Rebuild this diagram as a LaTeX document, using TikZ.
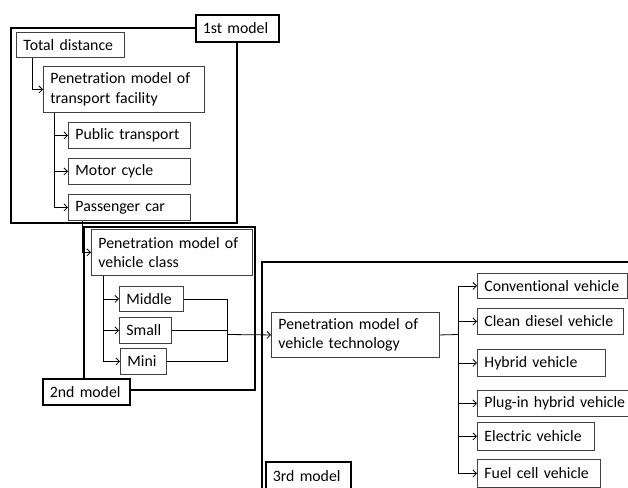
\documentclass[tikz,border=0pt]{standalone}
\usepackage{fontspec}
\setmainfont{Carlito}[Ligatures={NoCommon}]
\usetikzlibrary{arrows.meta,calc}
\hfuzz=40pt
\hbadness=10000
\newcommand{\bx}[6][]{%
  \pgfmathsetmacro{\bw}{#5-#3}\pgfmathsetmacro{\bh}{#6-#4}%
  \node[box,#1,anchor=north west,minimum width=\bw pt,minimum height=\bh pt,text width=\bw pt-14pt] (#2) at (#3,#4)}
\begin{document}
\begin{tikzpicture}[x=1pt,y=-1pt,
  box/.style={draw=black!75,line width=0.9pt,fill=white,inner xsep=7pt,inner ysep=0pt,align=left,
    font=\fontsize{15.8}{19.5}\selectfont},
  lab/.style={line width=1.8pt,draw=black},
  frame/.style={draw=black,line width=1.8pt},
  arr/.style={draw=black,line width=0.8pt,-{Straight Barb[length=3.5pt,width=7pt]}},
  ln/.style={draw=black,line width=0.8pt}]
\useasboundingbox (0,0) rectangle (628,487);
\begin{scope}
\clip (0,0) rectangle (628,487);
% frames
\draw[frame] (11,28) rectangle (237,223);
\draw[frame] (84,227) rectangle (255,390);
\draw[frame] (262,262) rectangle (660,520);
% 1st model
\bx{td}{16}{32}{124}{57} {\mbox{Total distance}};
\bx{pt}{43}{66}{204}{112} {Penetration model of\\transport facility};
\bx{pub}{68}{122}{190}{148} {\mbox{Public transport}};
\bx{moto}{68}{158}{190}{184} {\mbox{Motor cycle}};
\bx{pc}{68}{194}{190}{220} {\mbox{Passenger car}};
% 2nd model
\bx{pvc}{91}{229}{252}{275} {Penetration model of\\vehicle class};
\bx{mid}{119}{286}{183}{311} {Middle};
\bx{small}{119}{317}{171}{343} {Small};
\bx{mini}{120}{348}{166}{374} {Mini};
% 3rd model
\bx{tech}{271}{312}{439}{357} {Penetration model of\\vehicle technology};
\bx{conv}{477}{273}{627}{298} {\mbox{Conventional vehicle}};
\bx{clean}{477}{308}{623}{334} {\mbox{Clean diesel vehicle}};
\bx{hyb}{477}{349}{605}{376} {\mbox{Hybrid vehicle}};
\bx{plug}{477}{390}{632}{416} {\mbox{Plug-in hybrid vehicle}};
\bx{elec}{477}{422}{594}{450} {\mbox{Electric vehicle}};
\bx{fuel}{477}{459}{600}{487} {\mbox{Fuel cell vehicle}};
% labels
\bx[lab]{l1}{195}{14}{278}{41} {\mbox{1st model}};
\bx[lab]{l2}{42}{378}{129}{404} {\mbox{2nd model}};
\bx[lab]{l3}{265}{461}{350}{489} {\mbox{3rd model}};
% connectors
\draw[arr] ([xshift=16pt]td.south west) |- (pt.west);
\foreach \t in {pub,moto,pc} \draw[arr] ([xshift=11pt]pt.south west) |- (\t.west);
\draw[arr] ([xshift=14pt]pc.south west) |- (pvc.west);
\foreach \t in {mid,small,mini} \draw[arr] ([xshift=12pt]pvc.south west) |- (\t.west);
\coordinate (m) at (227,334.5);
\draw[ln] (mid.east) -| (m);
\draw[ln] (mini.east) -| (m);
\draw[ln] (small.east) -- (small.east -| m);
\draw[arr] (m) -- (tech.west);
\coordinate (t) at (458,334.5);
\draw[ln] (tech.east) -- (t);
\foreach \t in {conv,clean,hyb,plug,elec,fuel} \draw[arr] (t) |- (\t.west);
\end{scope}
\end{tikzpicture}
\end{document}
